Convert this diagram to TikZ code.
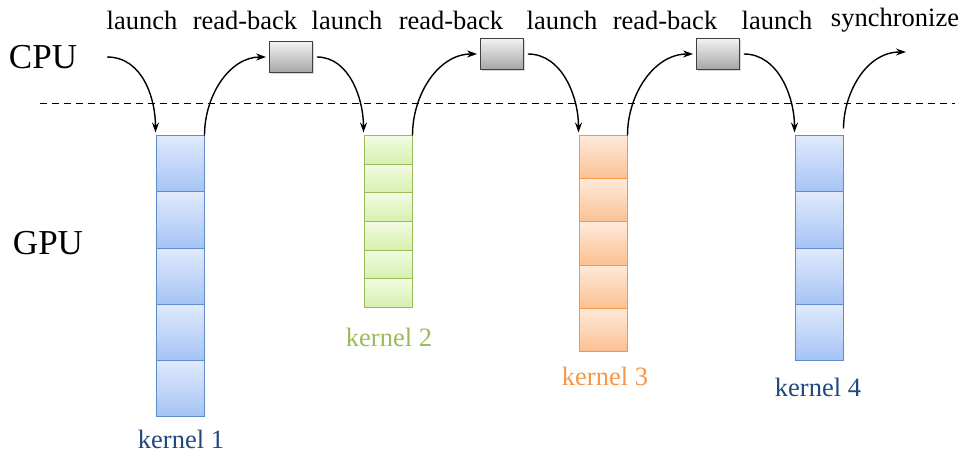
\documentclass[tikz,border=0pt]{standalone}
\usepackage{fontspec}
\setmainfont{Liberation Serif}
\usetikzlibrary{arrows.meta,shadows}

\definecolor{kblue}{RGB}{31,73,125}
\definecolor{kgreen}{RGB}{155,187,89}
\definecolor{korange}{RGB}{247,150,70}
\definecolor{cellblueline}{RGB}{95,140,205}

\begin{document}
\begin{tikzpicture}[x=1pt,y=1pt,
    bluecell/.style={draw=cellblueline,line width=1pt,
      top color={rgb,255:red,224;green,234;blue,252},
      bottom color={rgb,255:red,165;green,195;blue,245},
      minimum width=48pt,minimum height=56pt,inner sep=0pt,
      drop shadow={opacity=.15,shadow xshift=1pt,shadow yshift=-1pt}},
    greencell/.style={bluecell,draw=kgreen,
      top color={rgb,255:red,242;green,251;blue,228},
      bottom color={rgb,255:red,214;green,240;blue,172},minimum height=28.5pt},
    orangecell/.style={bluecell,draw=korange,
      top color={rgb,255:red,254;green,234;blue,218},
      bottom color={rgb,255:red,251;green,192;blue,146},minimum height=43pt},
    rbbox/.style={draw=black!75,line width=.8pt,top color=black!5,
      bottom color=black!35,minimum width=43pt,minimum height=31pt,
      inner sep=0pt,drop shadow={opacity=.3,shadow xshift=1.5pt,shadow yshift=-2pt}},
    toplabel/.style={font=\fontsize{26.5}{30}\selectfont,inner sep=0pt},
    side/.style={font=\fontsize{35}{40}\selectfont,inner sep=0pt},
    klabel/.style={font=\fontsize{26.5}{30}\selectfont,inner sep=0pt},
    flow/.style={line width=1.4pt,-{Stealth[length=10pt,width=7pt]}}]
  \useasboundingbox (0,0) rectangle (965,-454);

  %% host / device
  \node[side] (cpu) at (43,-57) {CPU};
  \node[side] (gpu) at (48,-243) {GPU};
  \draw[dashed,dash pattern=on 7pt off 5pt,line width=.8pt] (40,-103) -- (955,-103);

  %% what the cpu does
  \node[toplabel] (l1) at (142,-20) {launch};
  \node[toplabel] (r1) at (245,-20) {read-back};
  \node[toplabel] (l2) at (347,-20) {launch};
  \node[toplabel] (r2) at (451,-20) {read-back};
  \node[toplabel] (l3) at (562,-20) {launch};
  \node[toplabel] (r3) at (665,-20) {read-back};
  \node[toplabel] (l4) at (777,-20) {launch};
  \node[toplabel] (sync) at (895,-20) {synchronize};

  \node[rbbox] (rb1) at (291,-57) {};
  \node[rbbox] (rb2) at (502,-54) {};
  \node[rbbox] (rb3) at (718,-54) {};

  %% kernels
  \foreach \i in {1,...,5} \node[bluecell] (ka\i) at (180,{-136-56*(\i-.5)}) {};
  \foreach \i in {1,...,6} \node[greencell] (kb\i) at (388,{-136-28.5*(\i-.5)}) {};
  \foreach \i in {1,...,5} \node[orangecell] (kc\i) at (603,{-136-43*(\i-.5)}) {};
  \foreach \i in {1,...,4} \node[bluecell] (kd\i) at (819,{-136-56*(\i-.5)}) {};

  \node[klabel,text=kblue] (kn1) at (181,-439) {kernel 1};
  \node[klabel,text=kgreen] (kn2) at (389,-337) {kernel 2};
  \node[klabel,text=korange] (kn3) at (605,-376) {kernel 3};
  \node[klabel,text=kblue] (kn4) at (818,-387) {kernel 4};

  %% control flow
  \coordinate (start) at (107,-57);
  \coordinate (stop) at (906,-52);
  \draw[flow,shorten >=3pt] (start) to[out=0,in=90] (ka1.north west);
  \draw[flow,shorten >=3pt] (ka1.north east) to[out=90,in=180] (rb1.west);
  \draw[flow,shorten <=4pt,shorten >=3pt] (rb1.east) to[out=0,in=90] (kb1.north west);
  \draw[flow,shorten >=3pt] (kb1.north east) to[out=90,in=180] (rb2.west);
  \draw[flow,shorten <=4pt,shorten >=3pt] (rb2.east) to[out=0,in=90] (kc1.north west);
  \draw[flow,shorten >=3pt] (kc1.north east) to[out=90,in=180] (rb3.west);
  \draw[flow,shorten <=4pt,shorten >=3pt] (rb3.east) to[out=0,in=90] (kd1.north west);
  \draw[flow,shorten <=7pt] (kd1.north east) to[out=90,in=180] (stop);
\end{tikzpicture}
\end{document}
